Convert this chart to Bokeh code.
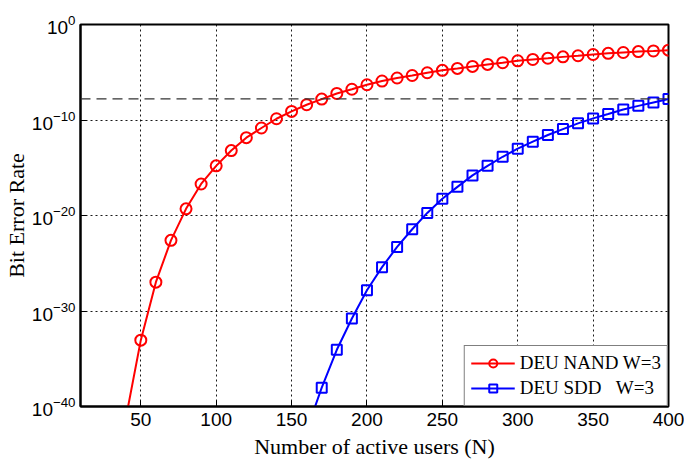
import numpy as np
from bokeh.plotting import figure
from bokeh.models import Range1d, FixedTicker, Span, Legend, LegendItem
from bokeh.embed import file_html
from bokeh.resources import INLINE

# Number of active users
nand_users = [40, 50, 60, 70, 80, 90, 100, 110, 120, 130, 140, 150, 160, 170, 180, 190,
              200, 210, 220, 230, 240, 250, 260, 270, 280, 290, 300, 310, 320, 330, 340,
              350, 360, 370, 380, 390, 400]
# log10(BER)
nand_log_ber = [-41.3, -33.05, -26.98, -22.6, -19.3, -16.7, -14.8, -13.2, -11.85, -10.84,
                -9.87, -9.10, -8.40, -7.81, -7.22, -6.78, -6.31, -5.92, -5.60, -5.34,
                -5.05, -4.80, -4.60, -4.39, -4.18, -4.00, -3.80, -3.66, -3.53, -3.39,
                -3.27, -3.14, -3.02, -2.93, -2.84, -2.77, -2.69]

sdd_users = [160, 170, 180, 190, 200, 210, 220, 230, 240, 250, 260, 270, 280, 290, 300,
             310, 320, 330, 340, 350, 360, 370, 380, 390, 400]
sdd_log_ber = [-42.5, -38.03, -34.06, -30.78, -27.82, -25.41, -23.29, -21.44, -19.73,
               -18.25, -17.0, -15.8, -14.8, -13.85, -13.0, -12.27, -11.57, -10.95, -10.35,
               -9.83, -9.38, -8.90, -8.52, -8.16, -7.81]

threshold_ber = 1.6e-8

x_ticks = [50, 100, 150, 200, 250, 300, 350, 400]
y_ticks = [1e-40, 1e-30, 1e-20, 1e-10, 1e0]

nand_ber = list(10.0 ** np.array(nand_log_ber))
sdd_ber = list(10.0 ** np.array(sdd_log_ber))

p = figure(width=684, height=461, y_axis_type="log",
           x_range=Range1d(10, 400), y_range=Range1d(1e-40, 1),
           output_backend="svg", toolbar_location=None,
           min_border_left=80, min_border_right=16, min_border_top=24,
           min_border_bottom=55)

p.background_fill_color = "white"
p.border_fill_color = "white"
p.outline_line_color = "black"
p.outline_line_width = 2

p.xaxis.ticker = FixedTicker(ticks=x_ticks)
p.yaxis.ticker = FixedTicker(ticks=y_ticks)

for ax in (p.xaxis, p.yaxis):
    ax.axis_line_color = "black"
    ax.axis_line_width = 2
    ax.major_tick_in = 6
    ax.major_tick_out = 0
    ax.minor_tick_line_color = None
    ax.major_tick_line_color = "black"
    ax.major_label_text_font = "Liberation Sans"
    ax.major_label_text_font_size = "19px"
    ax.major_label_text_color = "black"
    ax.axis_label_text_font = "Liberation Serif"
    ax.axis_label_text_font_size = "22px"
    ax.axis_label_text_font_style = "normal"
    ax.axis_label_text_color = "black"

p.xaxis.axis_label = "Number of active users (N)"
p.yaxis.axis_label = "Bit Error Rate"
p.xaxis.major_label_standoff = 6
p.yaxis.major_label_standoff = 5
p.xaxis.axis_label_standoff = 5
p.yaxis.axis_label_standoff = 0

for g in (p.xgrid, p.ygrid):
    g.grid_line_color = "black"
    g.grid_line_dash = "2 3"
    g.grid_line_width = 1
    g.grid_line_alpha = 0.9
p.ygrid.minor_grid_line_color = None

thr = Span(location=threshold_ber, dimension="width", line_color="#333333",
           line_dash="10 6", line_width=1.2)
p.add_layout(thr)

r1l = p.line(nand_users, nand_ber, line_color="#ff0000", line_width=2)
r1m = p.scatter(nand_users, nand_ber, marker="circle", size=11, line_color="#ff0000",
                fill_color=None, line_width=2)
r2l = p.line(sdd_users, sdd_ber, line_color="#0000ff", line_width=2)
r2m = p.scatter(sdd_users, sdd_ber, marker="square", size=10, line_color="#0000ff",
                fill_color=None, line_width=2)

legend = Legend(items=[
    LegendItem(label="DEU NAND W=3", renderers=[r1l, r1m]),
    LegendItem(label="DEU SDD\u00a0\u00a0\u00a0W=3", renderers=[r2l, r2m]),
], location="bottom_right")
legend.margin = 0
legend.border_line_color = "black"
legend.border_line_width = 1.5
legend.background_fill_color = "white"
legend.background_fill_alpha = 1
legend.label_text_font = "Liberation Serif"
legend.label_text_font_size = "19px"
legend.label_text_color = "black"
legend.glyph_width = 44
legend.glyph_height = 20
legend.label_height = 20
legend.spacing = 3
legend.padding = 6
legend.label_standoff = 5
p.add_layout(legend, "center")

open("out.html", "w").write(file_html(p, INLINE))
